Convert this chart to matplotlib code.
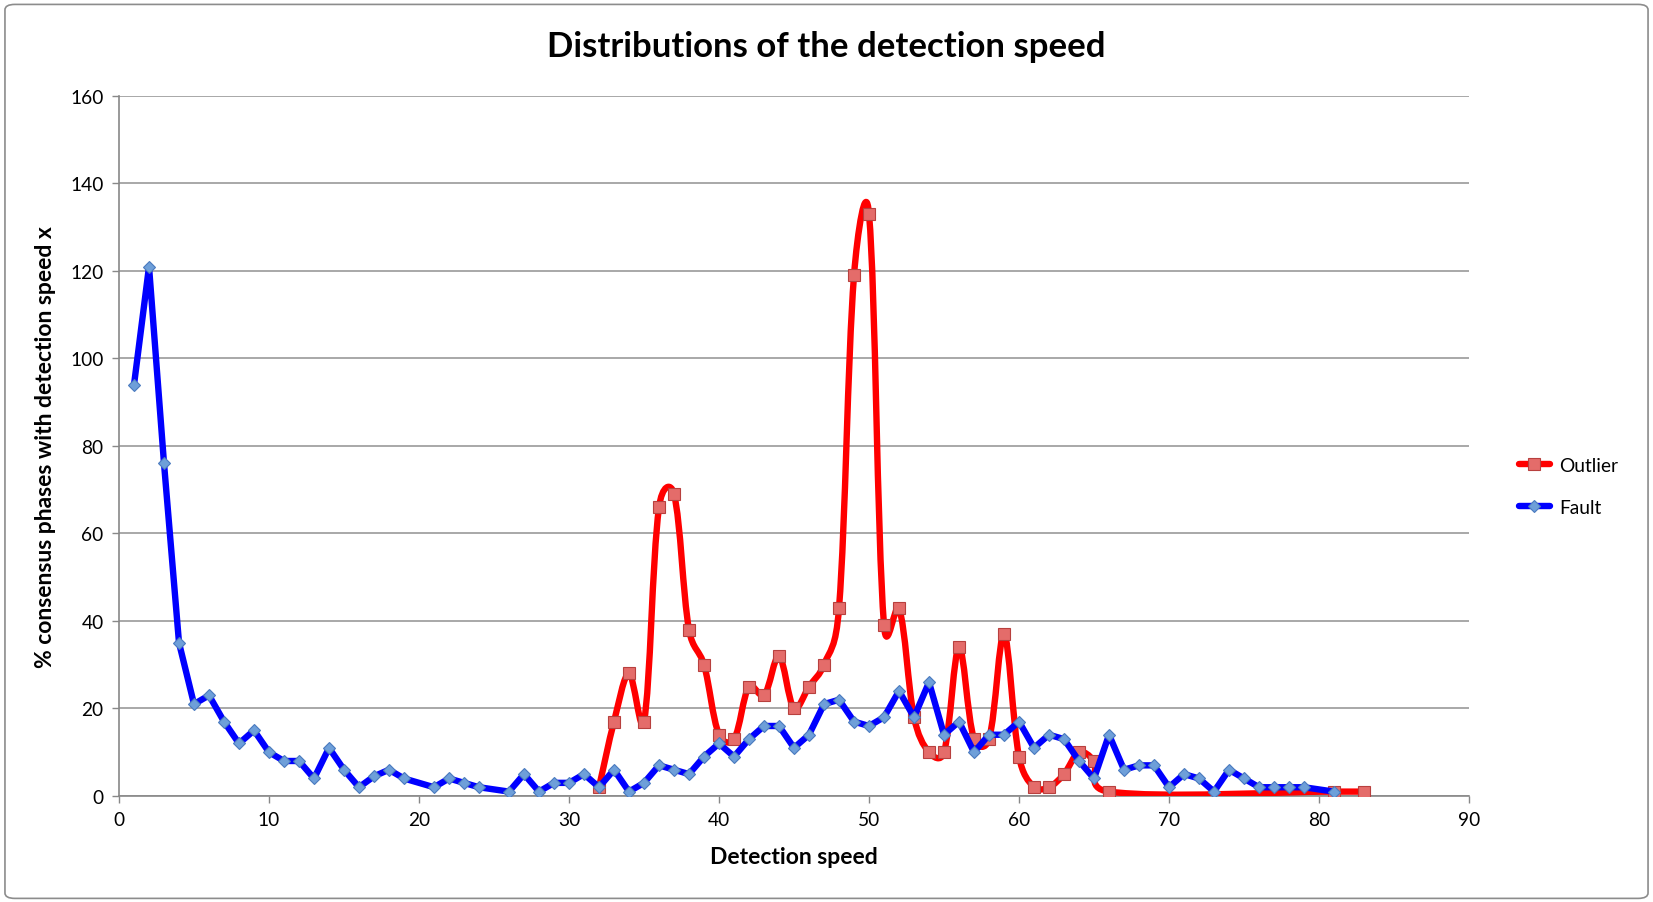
import matplotlib
matplotlib.use("Agg")
import matplotlib.pyplot as plt
from matplotlib.path import Path
from matplotlib.patches import PathPatch, FancyBboxPatch
from matplotlib.lines import Line2D
import numpy as np

plt.rcParams['font.family'] = ['Lato', 'DejaVu Sans']

# Fault series (blue), x positions 20, 25 and 80 have no value
fault_x = [1, 2, 3, 4, 5, 6, 7, 8, 9, 10, 11, 12, 13, 14, 15, 16, 17, 18, 19,
           21, 22, 23, 24, 26, 27, 28, 29, 30, 31, 32, 33, 34, 35, 36, 37, 38,
           39, 40, 41, 42, 43, 44, 45, 46, 47, 48, 49, 50, 51, 52, 53, 54, 55,
           56, 57, 58, 59, 60, 61, 62, 63, 64, 65, 66, 67, 68, 69, 70, 71, 72,
           73, 74, 75, 76, 77, 78, 79, 81]
fault_y = [94, 121, 76, 35, 21, 23, 17, 12, 15, 10, 8, 8, 4, 11, 6, 2, 4.5, 6, 4,
           2, 4, 3, 2, 1, 5, 1, 3, 3, 5, 2, 6, 1, 3, 7, 6, 5,
           9, 12, 9, 13, 16, 16, 11, 14, 21, 22, 17, 16, 18, 24, 18, 26, 14,
           17, 10, 14, 14, 17, 11, 14, 13, 8, 4, 14, 6, 7, 7, 2, 5, 4,
           1, 6, 4, 2, 2, 2, 2, 1]

# Outlier series (red)
outlier_x = [32, 33, 34, 35, 36, 37, 38, 39, 40, 41, 42, 43, 44, 45, 46, 47,
             48, 49, 50, 51, 52, 53, 54, 55, 56, 57, 58, 59, 60, 61, 62, 63,
             64, 65, 66, 81, 83]
outlier_y = [2, 17, 28, 17, 66, 69, 38, 30, 14, 13, 25, 23, 32, 20, 25, 30,
             43, 119, 133, 39, 43, 18, 10, 10, 34, 13, 13, 37, 9, 2, 2, 5,
             10, 8, 1, 1, 1]

title = "Distributions of the detection speed"
x_label = "Detection speed"
y_label = "% consensus phases with detection speed x"
x_ticks = [0, 10, 20, 30, 40, 50, 60, 70, 80, 90]
y_ticks = [0, 20, 40, 60, 80, 100, 120, 140, 160]


def smooth_path(ax, xs, ys):
    # bezier through the points; tangent is a mix of plain catmull-rom and a
    # segment-length weighted one (close to the office "smoothed line")
    pts = ax.transData.transform(np.column_stack([xs, ys]).astype(float))
    n = len(pts)
    verts = [pts[0]]
    codes = [Path.MOVETO]
    for i in range(n - 1):
        p0 = pts[i - 1] if i > 0 else pts[i]
        p1 = pts[i]
        p2 = pts[i + 1]
        p3 = pts[i + 2] if i + 2 < n else pts[i + 1]
        d01 = np.hypot(*(p1 - p0))
        d12 = np.hypot(*(p2 - p1))
        d23 = np.hypot(*(p3 - p2))
        w1 = d12 / (d01 + d12) if d01 + d12 > 0 else 0
        w2 = d12 / (d12 + d23) if d12 + d23 > 0 else 0
        w1 = 0.5 * (w1 + 0.5)
        w2 = 0.5 * (w2 + 0.5)
        c1 = p1 + (p2 - p0) * w1 / 3.0
        c2 = p2 - (p3 - p1) * w2 / 3.0
        verts += [c1, c2, p2]
        codes += [Path.CURVE4, Path.CURVE4, Path.CURVE4]
    verts = ax.transData.inverted().transform(np.array(verts))
    return Path(verts, codes)


fig = plt.figure(figsize=(16.53, 9.03), dpi=100)
ax = fig.add_axes([0.072, 0.1174, 0.8167, 0.7752])
ax.set_xlim(0, 90)
ax.set_ylim(0, 160)

red_face, red_edge = '#e46c6a', '#b8403e'
blue_face, blue_edge = '#6e9fd9', '#4a7abf'

ax.add_patch(PathPatch(smooth_path(ax, outlier_x, outlier_y), facecolor='none',
                       edgecolor='#ff0000', lw=4.6, capstyle='round',
                       joinstyle='round', zorder=3))
ax.plot(outlier_x, outlier_y, ls='none', marker='s', ms=9,
        mfc=red_face, mec=red_edge, mew=0.8, zorder=4)

ax.plot(fault_x, fault_y, color='#0000ff', lw=4.6, marker='D', ms=6.5,
        mfc=blue_face, mec=blue_edge, mew=0.8, solid_joinstyle='round',
        solid_capstyle='round', zorder=5)

ax.set_xticks(x_ticks)
ax.set_yticks(y_ticks)
ax.tick_params(axis='both', direction='out', length=5, width=1,
               color='#888888', labelsize=13.8, pad=6)
ax.yaxis.grid(True, color='#999999', lw=1.2)
ax.set_axisbelow(True)
for s in ['top', 'right']:
    ax.spines[s].set_visible(False)
for s in ['left', 'bottom']:
    ax.spines[s].set_color('#888888')
    ax.spines[s].set_linewidth(1.2)

ax.set_xlabel(x_label, fontsize=16.5, fontweight='bold', labelpad=13)
ax.set_ylabel(y_label, fontsize=16.5, fontweight='bold', labelpad=10)
fig.suptitle(title, fontsize=25, fontweight='bold', x=0.5, y=0.948, va='center')

handles = [
    Line2D([], [], color='#ff0000', lw=4.6, marker='s', ms=9,
           mfc=red_face, mec=red_edge, mew=0.8, solid_capstyle='round'),
    Line2D([], [], color='#0000ff', lw=4.6, marker='D', ms=6.5,
           mfc=blue_face, mec=blue_edge, mew=0.8, solid_capstyle='round'),
]
fig.legend(handles, ['Outlier', 'Fault'], loc='center left',
           bbox_to_anchor=(0.919, 0.460), frameon=False, fontsize=13.8,
           handlelength=1.6, handletextpad=0.5, labelspacing=1.3,
           borderaxespad=0, borderpad=0)

# rounded border round the whole chart
fig.patches.append(FancyBboxPatch((0.003, 0.004), 0.994, 0.99,
                                  boxstyle='round,pad=0,rounding_size=0.006',
                                  transform=fig.transFigure, fill=False,
                                  edgecolor='#8c8c8c', lw=1.2))

fig.savefig('out.png', dpi=100)
